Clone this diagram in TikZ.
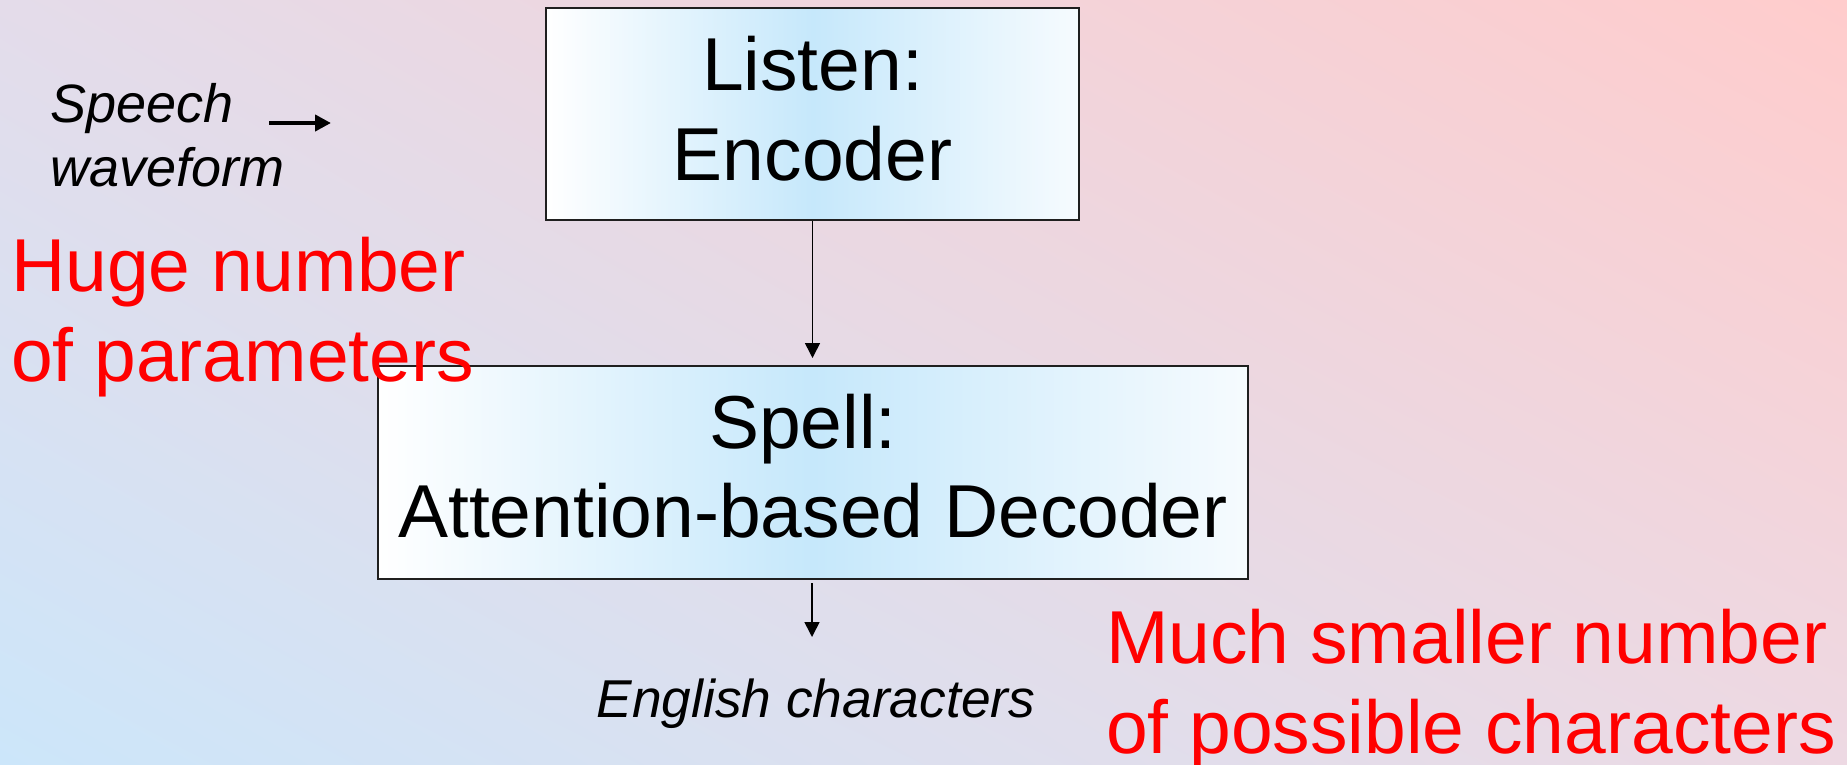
\documentclass[tikz,border=0pt]{standalone}
\usepackage{fontspec}
\setmainfont{Liberation Sans}
\usetikzlibrary{arrows.meta,shadings}
\definecolor{bgUL}{HTML}{E4DCEA}
\definecolor{bgUR}{HTML}{FFCCCC}
\definecolor{bgLL}{HTML}{CCE6FA}
\definecolor{bgLR}{HTML}{EDD9E3}
\definecolor{boxM}{HTML}{C6E8FB}
\definecolor{boxR}{HTML}{F6FBFE}
\definecolor{redtext}{HTML}{FF0000}
\begin{document}
\begin{tikzpicture}[x=1pt,y=-1pt,
  box/.style={draw=black!88, line width=2pt, left color=white, right color=boxR, middle color=boxM, inner sep=0pt},
  big/.style={font=\fontsize{75}{89}\selectfont, inner sep=0pt, anchor=base},
  bigred/.style={big, text=redtext, anchor=base west},
  small/.style={font=\fontsize{54}{64}\selectfont\itshape, inner sep=0pt, anchor=base west},
  vline/.style={line width=1.6pt, -{Triangle[length=15pt,width=15pt]}},
  hline/.style={line width=4.5pt, -{Triangle[length=16pt,width=16pt]}}
]
\useasboundingbox (0,0) rectangle (1847,764);
\shade[upper left=bgUL, upper right=bgUR, lower left=bgLL, lower right=bgLR] (0,0) rectangle (1847,764);

% boxes
\node[box, minimum width=533pt, minimum height=212pt] (enc) at (812.5,114) {};
\node[box, minimum width=870pt, minimum height=213pt] (dec) at (813,472.5) {};

% box texts
\node[big] (listen) at (812.5,90) {Listen:};
\node[big] (encoder) at (812.5,180) {Encoder};
\node[big] (spell) at (803,448) {Spell:};
\node[big] (attn) at (813,537) {Attention-based Decoder};

% input
\node[small] (speech) at (50,122) {Speech};
\node[small] (waveform) at (50,186) {waveform};
\coordinate (sa1) at (269,123);
\coordinate (sa2) at (331,123);
\draw[hline] (sa1) -- (sa2);

% output
\node[small, anchor=base, font=\fontsize{53.3}{64}\selectfont\itshape] (english) at (816,717) {English characters};
\coordinate (a2end) at (812,637);

% red remarks
\node[bigred] (huge1) at (11,291) {Huge number};
\node[bigred] (huge2) at (11,381) {of parameters};
\node[bigred] (much1) at (1106,663) {Much smaller number};
\node[bigred] (much2) at (1106,753) {of possible characters};

% connectors
\draw[vline, shorten >=7pt] (enc.south) -- (enc.south |- dec.north);
\draw[vline, shorten <=3pt] (dec.south -| a2end) -- (a2end);
\end{tikzpicture}
\end{document}
